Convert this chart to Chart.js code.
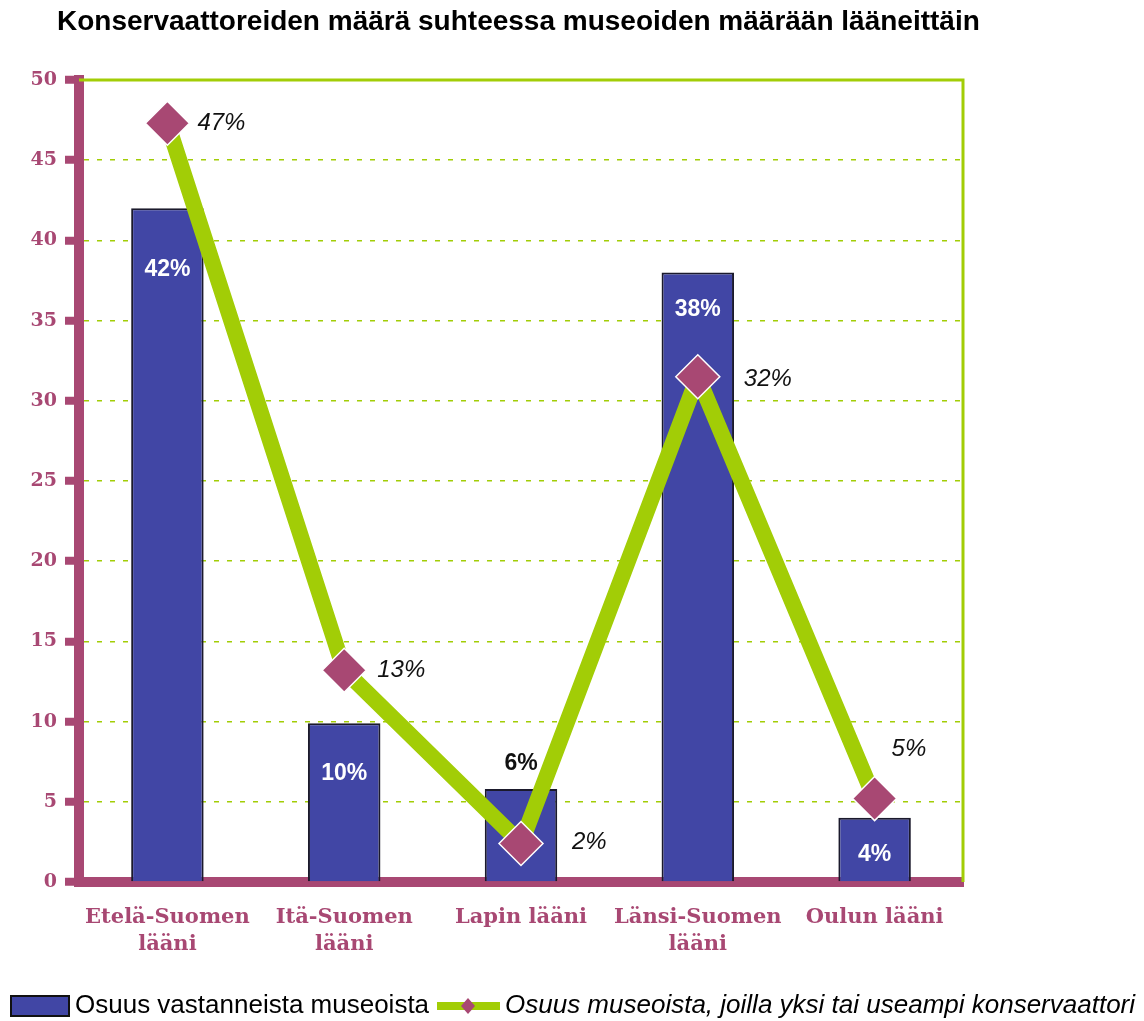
<!DOCTYPE html>
<html>
<head>
<meta charset="utf-8">
<script src="https://cdn.jsdelivr.net/npm/chart.js@4"></script>
<style>
  html, body { margin: 0; padding: 0; background: #fff; }
  #wrap { width: 1144px; height: 1021px; position: relative; }
</style>
</head>
<body>
<div id="wrap"><canvas id="chart"></canvas></div>
<script>
// data
const titleText = "Konservaattoreiden määrä suhteessa museoiden määrään lääneittäin";
const categories = [["Etelä-Suomen", "lääni"], ["Itä-Suomen", "lääni"], "Lapin lääni", ["Länsi-Suomen", "lääni"], "Oulun lääni"];
const barName = "Osuus vastanneista museoista";
const barValues = [42, 9.9, 5.8, 38, 4];
const barLabels = ["42%", "10%", "6%", "38%", "4%"];
const lineName = "Osuus museoista, joilla yksi tai useampi konservaattori";
const lineValues = [47.3, 13.2, 2.4, 31.5, 5.2];
const lineLabels = ["47%", "13%", "2%", "32%", "5%"];

// colours
const magenta = "#a84873";
const barBlue = "#4146a5";
const green = "#a2cd06";

// label placement (style only)
const barLabelDy = [61, 50, -25, 37, 37];
const barLabelColor = ["#fff", "#fff", "#111", "#fff", "#fff"];
const lineLabelDx = [30, 33, 51, 46, 17];
const lineLabelDy = [0, 0, -1, 3, -49];

const extras = {
    id: "extras",
    beforeDatasetsDraw(chart) {
        let ctx = chart.ctx, a = chart.chartArea;
        ctx.save();
        ctx.strokeStyle = green;
        ctx.lineWidth = 3;
        ctx.beginPath();
        ctx.moveTo(a.left, a.top);
        ctx.lineTo(a.right, a.top);
        ctx.lineTo(a.right, a.bottom);
        ctx.stroke();
        ctx.restore();
    },
    afterDatasetsDraw(chart) {
        let ctx = chart.ctx;
        ctx.save();
        ctx.textBaseline = "middle";

        // bar labels
        let bars = chart.getDatasetMeta(0).data;
        ctx.textAlign = "center";
        ctx.font = "bold 23px 'Liberation Sans', Arial, sans-serif";
        bars.forEach((b, i) => {
            ctx.fillStyle = barLabelColor[i];
            ctx.fillText(barLabels[i], b.x, b.y + barLabelDy[i]);
        });

        // line labels
        let pts = chart.getDatasetMeta(1).data;
        ctx.textAlign = "left";
        ctx.fillStyle = "#111";
        ctx.font = "italic 24px 'Liberation Sans', Arial, sans-serif";
        pts.forEach((p, i) => {
            ctx.fillText(lineLabels[i], p.x + lineLabelDx[i], p.y + lineLabelDy[i]);
        });

        // title
        ctx.fillStyle = "#000";
        ctx.font = "bold 28px 'Liberation Sans', Arial, sans-serif";
        ctx.fillText(titleText, 57, 22, 928);

        // legend
        ctx.fillStyle = barBlue;
        ctx.fillRect(11, 996, 58, 20);
        ctx.strokeStyle = "#111";
        ctx.lineWidth = 2;
        ctx.strokeRect(11, 996, 58, 20);
        ctx.fillStyle = "#000";
        ctx.font = "26px 'Liberation Sans', Arial, sans-serif";
        ctx.fillText(barName, 75, 1006, 355);

        ctx.strokeStyle = green;
        ctx.lineWidth = 8;
        ctx.beginPath();
        ctx.moveTo(437, 1006);
        ctx.lineTo(500, 1006);
        ctx.stroke();
        ctx.fillStyle = magenta;
        ctx.beginPath();
        ctx.moveTo(468, 998);
        ctx.lineTo(475, 1006);
        ctx.lineTo(468, 1014);
        ctx.lineTo(461, 1006);
        ctx.closePath();
        ctx.fill();

        ctx.fillStyle = "#000";
        ctx.font = "italic 26px 'Liberation Sans', Arial, sans-serif";
        ctx.fillText(lineName, 505, 1006, 635);
        ctx.restore();
    }
};

new Chart(document.getElementById("chart"), {
    data: {
        labels: categories,
        datasets: [{
            type: "bar",
            label: barName,
            data: barValues,
            backgroundColor: barBlue,
            borderColor: "#1b1a2c",
            borderWidth: 2,
            borderSkipped: "bottom",
            categoryPercentage: 1,
            barPercentage: 0.41,
            order: 1
        }, {
            type: "line",
            label: lineName,
            data: lineValues,
            borderColor: green,
            borderWidth: 16,
            tension: 0,
            pointStyle: "rectRot",
            pointRadius: 22,
            pointHoverRadius: 22,
            pointBackgroundColor: magenta,
            pointBorderColor: "#fff",
            pointBorderWidth: 1.5,
            order: 0
        }]
    },
    options: {
        responsive: true,
        maintainAspectRatio: false,
        animation: false,
        layout: { padding: { left: 0, right: 181, top: 80, bottom: 59 } },
        plugins: {
            legend: { display: false },
            title: { display: false },
            tooltip: { enabled: false }
        },
        scales: {
            x: {
                afterFit: s => { s.height = 80; },
                grid: { display: false, drawTicks: false },
                border: { color: magenta, width: 10 },
                ticks: {
                    color: magenta,
                    padding: 22,
                    maxRotation: 0,
                    font: { family: "'DejaVu Serif', serif", weight: "bold", size: 21, lineHeight: 1.3 }
                }
            },
            y: {
                min: 0,
                max: 50,
                afterFit: s => { s.width = 79; },
                ticks: {
                    stepSize: 5,
                    color: magenta,
                    padding: 8,
                    font: { family: "'DejaVu Serif', serif", weight: "bold", size: 19 }
                },
                grid: {
                    color: c => (c.tick && (c.tick.value === 0 || c.tick.value === 50)) ? "rgba(0,0,0,0)" : green,
                    lineWidth: 1.5,
                    tickColor: magenta,
                    tickWidth: 8,
                    tickLength: 14
                },
                border: { color: magenta, width: 10, dash: [5, 8] }
            }
        }
    },
    plugins: [extras]
});
</script>
</body>
</html>
